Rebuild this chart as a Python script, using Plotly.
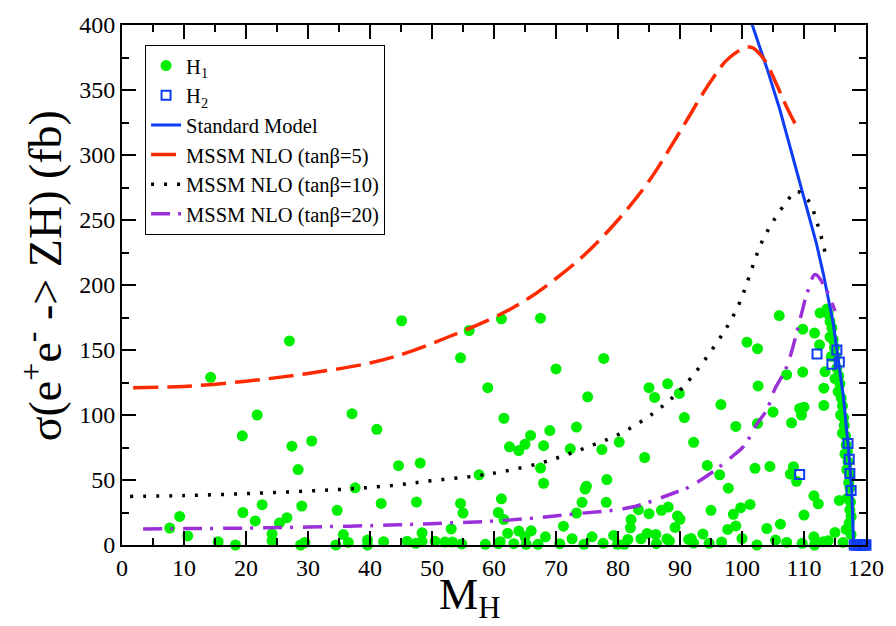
import plotly.graph_objects as go

# ---------------- data ----------------
h1_pts = [
    (14.3,129),(27.0,157),(21.8,100),(19.4,84),(27.4,76),(30.6,80),(28.4,58),(9.3,22),(7.7,13),(10.6,7),
    (19.5,25),(22.6,31),(21.5,18.5),(29.0,30),(26.6,21),(25.4,17),(24.2,8.6),(24.2,3.3),(15.5,2.5),(18.3,0),
    (28.8,0),(29.5,2),
    (45.1,172.5),(56.0,165),(61.2,174),(54.6,144),(59.0,121),(61.6,97.5),(62.5,75.5),(37.1,101),(41.1,89),
    (44.6,61),(48.1,63),(57.6,54),(37.6,44),(41.8,32),(47.5,33),(54.6,32),(55.0,24.6),(61.2,35.5),(60.7,25),
    (61.6,19.6),(34.7,26.7),(53.1,12.4),(35.7,8),(48.4,9.4),
    (34.5,0),(36.5,2),(39.6,3.8),(39.6,0),(42.2,2.5),(46.0,2.8),(47.4,1.3),(48.4,2.8),(50.5,2.8),(52.1,2.3),
    (53.3,2.3),(54.8,0.8),(58.6,0.5),(61.0,2.5),(62.2,9),
    (67.5,174.5),(77.7,143.5),(70.0,135.4),(75.1,114),(85.0,121),(88.0,124),(85.9,113.5),(89.9,116.6),
    (90.7,98),(92.2,79),(65.9,84.3),(69.0,88),(73.3,90.7),(64.0,72.6),(65.0,77.5),(68.0,76.4),(72.3,74),
    (77.4,73.4),(80.2,79.2),(84.3,67.3),(67.5,59.2),(68.0,47.5),(74.9,45.2),(74.7,43),(78.2,50.3),(74.2,32.8),
    (78.1,32.8),(73.3,24.6),(83.3,27.2),(85.0,24.1),(87.0,26.7),(88.1,29.2),(89.6,22.3),(90.0,19.8),(82.1,19.6),
    (82.0,13.2),(89.2,13.5),(71.2,14.5),(64.0,10.7),(66.0,10.9),(68.3,6.3),(75.8,6.3),(79.3,7.4),(81.6,4.3),
    (83.7,4.8),(84.7,8.9),(86.1,8.1),(87.9,4.8),
    (60.7,1),(63.2,1),(65.2,0.5),(67.1,0.5),(70.6,1),(72.6,4.8),(74.5,0.5),(77.6,1.3),(79.9,0.5),(81.0,0.5),
    (91.4,4.3),(92.2,1.5),(86.2,1),(88.3,3),(65.0,6.3),
    (106.0,176.5),(112.6,178.5),(113.7,181.6),(109.8,166),(111.7,163),(112.5,154),(100.8,156),(102.5,151),
    (107.2,131),(109.8,133),(102.6,122.4),(113.2,120.6),(113.4,133.3),(113.2,107.4),(105.0,102.3),(109.3,105),
    (110.0,106),(109.6,100),(108.0,94),(96.6,108),(99.0,91.2),(102.5,93.5),(94.4,61.2),(96.4,54),(97.8,43.7),
    (102.1,59),(104.5,60.4),(108.3,60.2),(107.8,54.6),(108.8,49),(111.6,37.8),(112.3,31.7),(115.7,34.3),
    (110.0,23),(95.0,26.7),(98.6,23.6),(99.8,28.7),(101.3,31.2),(97.7,12),(99.0,14.7),(104.0,12.7),(106.2,16),
    (91.8,5),(93.7,8.4),(94.7,1.3),(96.7,2.3),(100.0,5),(102.4,0),(105.4,3.8),(109.7,1.3),(111.6,6.3),
    (111.7,0),(113.9,3.3),(115.0,9.7),(116.3,2),(107.2,2),(113.1,2.5),
    (113.9,178),(114.2,172),(114.5,167),(114.2,160),(114.7,158),(114.9,152),(114.4,145),(115.1,145),
    (115.3,136),(115.0,128),(115.6,130),(115.8,124),(115.5,118),(116.0,113),(116.2,107),(115.9,100),
    (116.4,98),(116.5,92),(116.2,86),(116.7,84),(116.8,77),(116.6,70),(117.0,72),(117.1,64),(116.9,58),
    (117.3,55),(117.2,48),(117.4,44),(117.0,36),(117.5,33),(117.4,27),(117.6,22),(117.3,17),(116.8,12),
    (117.6,8),
]
h1_m = [p[0] for p in h1_pts]
h1_sigma = [p[1] for p in h1_pts]

h2_m = [112.1, 115.3, 114.5, 115.7, 117.1, 117.3, 117.4, 117.6, 109.3,
        118.1, 118.4, 118.7, 119.0, 119.3, 119.6, 119.9, 120.0]
h2_sigma = [147, 150, 139, 140.7, 78, 66, 55, 42, 54.2,
            0, 0, 0, 0, 0, 0, 0, 0]

sm_m = [101.3, 104.0, 106.1, 108.2, 110.4, 112.0, 113.1, 114.7, 116.3, 117.1, 117.7, 118.0, 120.0]
sm_sigma = [405, 367, 335, 298, 261, 232, 209, 171, 116, 78, 42, 0, 0]

tb5_m = [1.8, 10, 20, 30, 40, 46, 52.6, 60, 65, 70, 75, 80, 85, 90, 95, 98, 101.3, 103.5, 105.6, 107.2, 108.8]
tb5_sigma = [121, 122, 126, 132, 140, 148, 160, 175, 188, 205, 225, 250, 280, 318, 357, 375, 383, 374, 354, 337, 322]

tb10_m = [1.3, 10, 20, 30, 37.7, 44.6, 50, 57.2, 62, 67.8, 72, 76, 79.9, 85.6, 90.4, 95.7, 99.2, 103.5,
          107.2, 108.8, 110.7, 112.3, 113.4]
tb10_sigma = [37.4, 38, 39.5, 41.5, 43.5, 46.3, 49.5, 53.2, 57, 63.4, 70, 77, 84.6, 101, 121, 154, 182, 236,
              264, 272, 265, 245, 225]

tb20_m = [3.4, 10, 20, 30, 44.6, 52, 59.1, 66, 73.2, 82.1, 89, 91.2, 95.2, 98.4, 100.3, 102.4, 104, 105.3,
          107.2, 109.6, 110.4, 111.8, 113.2, 115]
tb20_sigma = [12.4, 12.6, 13, 13.8, 15.5, 16.8, 18.2, 20.5, 24, 29, 40, 44, 56, 68, 76, 93, 104, 120,
              137, 178, 192, 208, 200, 180]

x_ticks = list(range(0, 121, 10))
y_ticks = list(range(0, 401, 50))

FONT = "Liberation Serif"
GREEN = "#00ee00"
BLUE = "#0f3cf5"
RED = "#ff2a00"
PURPLE = "#9b30d9"

fig = go.Figure()
fig.add_trace(go.Scatter(x=h1_m, y=h1_sigma, mode="markers", name="H<sub>1</sub>",
                         marker=dict(symbol="circle", size=11, color=GREEN, line=dict(width=0)),
                         cliponaxis=False, legendrank=1))
fig.add_trace(go.Scatter(x=sm_m, y=sm_sigma, mode="lines", name="Standard Model",
                         line=dict(color=BLUE, width=3), legendrank=3))
fig.add_trace(go.Scatter(x=tb5_m, y=tb5_sigma, mode="lines", name="MSSM NLO (tanβ=5)",
                         line=dict(color=RED, width=3.5, dash="25px,9px", shape="spline"), legendrank=4))
fig.add_trace(go.Scatter(x=tb10_m, y=tb10_sigma, mode="lines", name="MSSM NLO (tanβ=10)",
                         line=dict(color="black", width=3.5, dash="3px,10px", shape="spline"), legendrank=5))
fig.add_trace(go.Scatter(x=tb20_m, y=tb20_sigma, mode="lines", name="MSSM NLO (tanβ=20)",
                         line=dict(color=PURPLE, width=3.5, dash="19px,8px,3px,10px", shape="spline"), legendrank=6))
fig.add_trace(go.Scatter(x=h2_m, y=h2_sigma, mode="markers", name="H<sub>2</sub>",
                         marker=dict(symbol="square-open", size=9, color=BLUE, line=dict(width=2, color=BLUE)),
                         cliponaxis=False, legendrank=2))

axis_common = dict(showline=True, linewidth=2, linecolor="black", mirror="ticks", ticks="inside",
                   ticklen=14, tickwidth=1.5, tickcolor="black", showgrid=False, zeroline=False,
                   tickfont=dict(family=FONT, size=24, color="black"))
fig.update_xaxes(range=[0, 120], tickvals=x_ticks,
                 minor=dict(dtick=5, ticklen=7, ticks="inside", tickcolor="black", tickwidth=1.5),
                 **axis_common)
fig.update_yaxes(range=[0, 400], tickvals=y_ticks,
                 minor=dict(dtick=25, ticklen=7, ticks="inside", tickcolor="black", tickwidth=1.5),
                 **axis_common)

fig.add_annotation(text="M<sub>H</sub>", xref="paper", yref="paper", x=0.4666, y=-0.10,
                   xanchor="center", yanchor="middle", showarrow=False,
                   font=dict(family=FONT, size=44, color="black"))
fig.add_annotation(text="σ(e<sup>+</sup>e<sup>-</sup> -&gt; ZH) (fb)", xref="paper", yref="paper",
                   x=-0.108, y=0.518, xanchor="center", yanchor="middle", textangle=-90, showarrow=False,
                   font=dict(family=FONT, size=46, color="black"))

fig.update_layout(
    width=896, height=626,
    margin=dict(l=122, r=26, t=22, b=81),
    paper_bgcolor="white", plot_bgcolor="white",
    font=dict(family=FONT, color="black"),
    showlegend=True,
    legend=dict(x=0.031, y=0.962, xanchor="left", yanchor="top", bgcolor="white",
                bordercolor="black", borderwidth=1, font=dict(family=FONT, size=20.5, color="black"),
                tracegroupgap=0),
)

fig.write_html("out.html")
